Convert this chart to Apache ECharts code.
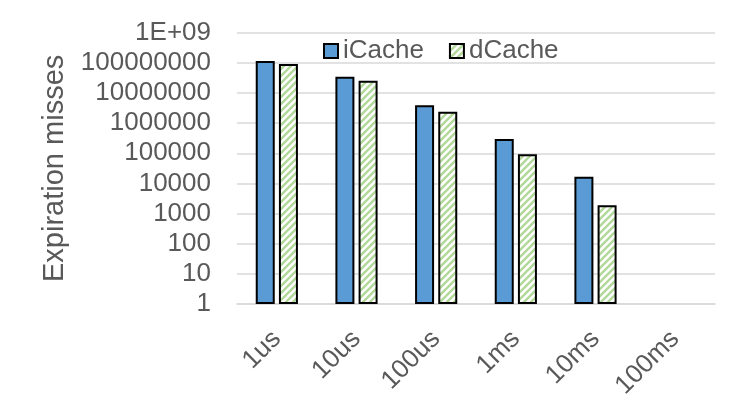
<!DOCTYPE html>
<html>
<head>
<meta charset="utf-8">
<script src="https://cdn.jsdelivr.net/npm/echarts@6/dist/echarts.min.js"></script>
<style>
html,body{margin:0;padding:0;background:#fff;}
#chart{width:748px;height:418px;}
</style>
</head>
<body>
<div id="chart"></div>
<script>
var categories = ['1us', '10us', '100us', '1ms', '10ms', '100ms'];
var iCache = [1.15e8, 3.45e7, 3.9e6, 3.0e5, 1.67e4, null];
var dCache = [9.1e7, 2.55e7, 2.4e6, 9.3e4, 1.9e3, null];
var yTickLabels = ['1', '10', '100', '1000', '10000', '100000', '1000000', '10000000', '100000000', '1E+09'];

function stripePattern() {
  var s = 7;
  var c = document.createElement('canvas');
  c.width = s; c.height = s;
  var ctx = c.getContext('2d');
  ctx.fillStyle = '#ffffff';
  ctx.fillRect(0, 0, s, s);
  ctx.strokeStyle = '#b2d89a';
  ctx.lineWidth = 2.4;
  ctx.beginPath();
  ctx.moveTo(0, s); ctx.lineTo(s, 0);
  ctx.moveTo(-2, 2); ctx.lineTo(2, -2);
  ctx.moveTo(s - 2, s + 2); ctx.lineTo(s + 2, s - 2);
  ctx.stroke();
  return c;
}

var FONT = "'Liberation Sans', Arial, sans-serif";
var TXT = '#595959';
var chart = echarts.init(document.getElementById('chart'), null, {renderer: 'canvas'});
var pattern = {image: stripePattern(), repeat: 'repeat'};

chart.setOption({
  animation: false,
  backgroundColor: '#ffffff',
  grid: {left: 237, right: 33, top: 32.7, bottom: 114, containLabel: false},
  legend: {
    left: 318, top: 33,
    itemWidth: 14, itemHeight: 14, itemGap: 25,
    textStyle: {fontFamily: FONT, fontSize: 26, color: TXT},
    data: [{name: 'iCache', icon: 'rect'}, {name: 'dCache', icon: 'rect'}]
  },
  xAxis: {
    type: 'category',
    data: categories,
    axisTick: {show: false},
    axisLine: {lineStyle: {color: '#d9d9d9', width: 1.5}},
    axisLabel: {rotate: 45, fontFamily: FONT, fontSize: 26, color: TXT, margin: 31, interval: 0}
  },
  yAxis: {
    type: 'log',
    logBase: 10,
    min: 1, max: 1e9,
    splitNumber: 10,
    name: 'Expiration misses',
    nameLocation: 'middle',
    nameGap: 165,
    nameTextStyle: {fontFamily: FONT, fontSize: 29, color: TXT},
    axisLine: {show: false},
    axisTick: {show: false},
    splitLine: {lineStyle: {color: '#d9d9d9', width: 1.5}},
    axisLabel: {
      fontFamily: FONT, fontSize: 26, color: TXT, margin: 26,
      formatter: function (v) {
        var i = Math.round(Math.log10(v));
        return yTickLabels[i] !== undefined ? yTickLabels[i] : '';
      }
    }
  },
  series: [
    {
      name: 'iCache', type: 'bar', data: iCache,
      barWidth: 19, barGap: '22%',
      itemStyle: {color: '#5b9bd5', borderColor: '#000000', borderWidth: 2}
    },
    {
      name: 'dCache', type: 'bar', data: dCache,
      barWidth: 19,
      itemStyle: {color: pattern, borderColor: '#000000', borderWidth: 2}
    }
  ]
});
</script>
</body>
</html>
